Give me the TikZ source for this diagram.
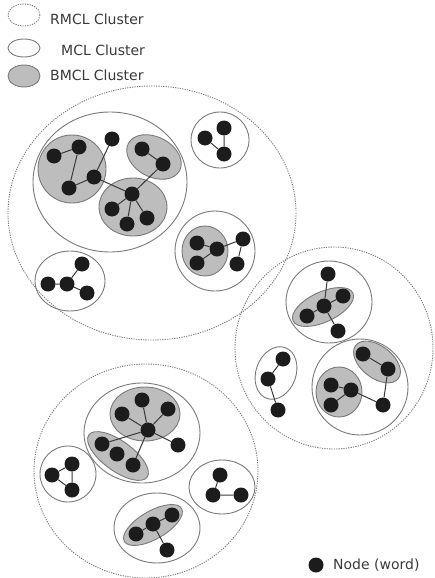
\documentclass[tikz,border=0pt]{standalone}
\usepackage{fontspec}
\setmainfont{DejaVu Sans}
\definecolor{bmclgray}{HTML}{BDBDBD}
\definecolor{linegray}{HTML}{7A7A7A}
\definecolor{dotgray}{HTML}{1C1C1C}
\definecolor{textgray}{HTML}{3A3A3A}
\tikzset{
  rmcl/.style={draw=linegray,line width=0.9pt,dash pattern=on 1.2pt off 1.2pt},
  mcl/.style={draw=linegray,line width=0.9pt},
  bmcl/.style={draw=linegray,fill=bmclgray,line width=0.9pt},
  word/.style={circle,fill=dotgray,inner sep=0pt,minimum size=15pt},
  link/.style={draw=textgray,line width=1pt},
  legend/.style={anchor=west,inner sep=0pt,text=textgray,font=\fontsize{14}{16}\selectfont}
}
\begin{document}
\begin{tikzpicture}[x=1pt,y=-1pt]
  \useasboundingbox[fill=white] (0,0) rectangle (434,578);
  % legend
  \draw[rmcl] (24,15) ellipse [x radius=16,y radius=11];
  \draw[mcl] (24,48) ellipse [x radius=16,y radius=9];
  \draw[bmcl] (24,76) ellipse [x radius=16,y radius=11];
  \node[legend] (lrmcl) at (50,19) {RMCL Cluster};
  \node[legend] (lmcl) at (61,50) {MCL Cluster};
  \node[legend] (lbmcl) at (50,75) {BMCL Cluster};
  \node[word] (lword) at (316,565) {};
  \node[legend] (lwordtext) at (333,565) {Node (word)};

  % top-left RMCL cluster
  \draw[rmcl] (152,213) ellipse [x radius=144,y radius=127];
  \draw[mcl] (110,182) ellipse [x radius=77,y radius=70];
  \draw[bmcl] (72,169) ellipse [x radius=34,y radius=34];
  \draw[bmcl,rotate around={-28:(154,157)}] (154,157) ellipse [x radius=29,y radius=20];
  \draw[bmcl] (133,207) ellipse [x radius=34,y radius=29];
  \draw[mcl] (220,140) ellipse [x radius=29,y radius=28];
  \draw[mcl] (215,251) ellipse [x radius=40,y radius=40];
  \draw[bmcl] (205,251) ellipse [x radius=23,y radius=25];
  \draw[mcl] (70,281) ellipse [x radius=35,y radius=30];

  \node[word] (a1) at (54,156) {};
  \node[word] (a2) at (79,147) {};
  \node[word] (a3) at (94,177) {};
  \node[word] (a4) at (69,188) {};
  \node[word] (a5) at (112,139) {};
  \node[word] (b1) at (142,149) {};
  \node[word] (b2) at (163,164) {};
  \node[word] (c1) at (132,194) {};
  \node[word] (c2) at (112,209) {};
  \node[word] (c3) at (127,224) {};
  \node[word] (c4) at (147,218) {};
  \node[word] (d1) at (205,138) {};
  \node[word] (d2) at (224,128) {};
  \node[word] (d3) at (224,154) {};
  \node[word] (e1) at (197,243) {};
  \node[word] (e2) at (217,249) {};
  \node[word] (e3) at (197,263) {};
  \node[word] (e4) at (243,239) {};
  \node[word] (e5) at (237,264) {};
  \node[word] (f1) at (48,284) {};
  \node[word] (f2) at (67,284) {};
  \node[word] (f3) at (82,264) {};
  \node[word] (f4) at (87,293) {};

  \draw[link] (a1) -- (a2) (a2) -- (a4) (a4) -- (a3) (a3) -- (a5) (a3) -- (c1);
  \draw[link] (b1) -- (b2) (b2) -- (c1);
  \draw[link] (c1) -- (c2) (c1) -- (c3) (c1) -- (c4);
  \draw[link] (d1) -- (d3) (d2) -- (d3);
  \draw[link] (e1) -- (e2) (e2) -- (e3) (e2) -- (e4) (e4) -- (e5);
  \draw[link] (f1) -- (f2) (f2) -- (f3) (f2) -- (f4);

  % right RMCL cluster
  \draw[rmcl] (334,348) ellipse [x radius=99,y radius=101];
  \draw[mcl] (329,302) ellipse [x radius=43,y radius=41];
  \draw[bmcl,rotate around={25:(323,307)}] (323,307) ellipse [x radius=33,y radius=15];
  \draw[mcl,rotate around={-20:(276,373)}] (276,373) ellipse [x radius=20,y radius=27];
  \draw[mcl] (360,387) ellipse [x radius=48,y radius=48];
  \draw[bmcl,rotate around={-38:(377,362)}] (377,362) ellipse [x radius=27,y radius=16];
  \draw[bmcl] (339,392) ellipse [x radius=23,y radius=25];

  \node[word] (g1) at (328,274) {};
  \node[word] (g2) at (324,306) {};
  \node[word] (g3) at (343,296) {};
  \node[word] (g4) at (307,316) {};
  \node[word] (g5) at (338,331) {};
  \node[word] (h1) at (283,359) {};
  \node[word] (h2) at (268,379) {};
  \node[word] (h3) at (278,410) {};
  \node[word] (i1) at (363,354) {};
  \node[word] (i2) at (388,369) {};
  \node[word] (j1) at (331,385) {};
  \node[word] (j2) at (351,390) {};
  \node[word] (j3) at (331,405) {};
  \node[word] (j4) at (383,405) {};

  \draw[link] (g1) -- (g2) (g2) -- (g3) (g2) -- (g4) (g2) -- (g5);
  \draw[link] (h1) -- (h2) (h2) -- (h3);
  \draw[link] (i1) -- (i2) (i2) -- (j4);
  \draw[link] (j1) -- (j2) (j2) -- (j3) (j2) -- (j4);

  % bottom RMCL cluster
  \draw[rmcl] (146,471) ellipse [x radius=112,y radius=107];
  \draw[mcl] (142,433) ellipse [x radius=58,y radius=50];
  \draw[bmcl] (145,414) ellipse [x radius=35,y radius=27];
  \draw[bmcl,rotate around={-36:(118,456)}] (118,456) ellipse [x radius=36,y radius=15];
  \draw[mcl] (68,474) ellipse [x radius=28,y radius=28];
  \draw[mcl] (222,487) ellipse [x radius=33,y radius=27];
  \draw[mcl] (157,528) ellipse [x radius=43,y radius=35];
  \draw[bmcl,rotate around={30:(153,525)}] (153,525) ellipse [x radius=33,y radius=14];

  \node[word] (k1) at (148,430) {};
  \node[word] (k2) at (142,400) {};
  \node[word] (k3) at (122,414) {};
  \node[word] (k4) at (168,409) {};
  \node[word] (k5) at (178,445) {};
  \node[word] (l1) at (102,444) {};
  \node[word] (l2) at (117,454) {};
  \node[word] (l3) at (133,465) {};
  \node[word] (m1) at (52,475) {};
  \node[word] (m2) at (72,464) {};
  \node[word] (m3) at (72,490) {};
  \node[word] (n1) at (220,475) {};
  \node[word] (n2) at (213,495) {};
  \node[word] (n3) at (241,495) {};
  \node[word] (o1) at (136,534) {};
  \node[word] (o2) at (153,524) {};
  \node[word] (o3) at (172,515) {};
  \node[word] (o4) at (167,550) {};

  \draw[link] (k1) -- (k2) (k1) -- (k3) (k1) -- (k4) (k1) -- (k5);
  \draw[link] (k1) -- (l1) (k1) -- (l3);
  \draw[link] (m1) -- (m2) (m1) -- (m3) (m2) -- (m3);
  \draw[link] (n1) -- (n2) (n2) -- (n3);
  \draw[link] (o1) -- (o2) (o2) -- (o3) (o2) -- (o4);
\end{tikzpicture}
\end{document}
